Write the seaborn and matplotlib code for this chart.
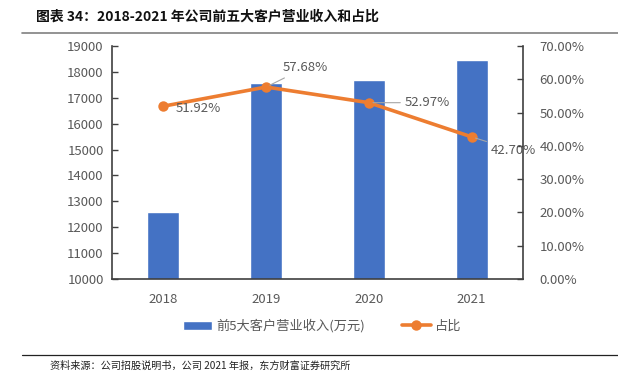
import numpy as np
import pandas as pd
import matplotlib
matplotlib.use("Agg")
import matplotlib.pyplot as plt
import seaborn as sns
from matplotlib.ticker import FixedLocator, FuncFormatter

years = ["2018", "2019", "2020", "2021"]
revenue = [12590, 17560, 17700, 18440]
share = [51.92, 57.68, 52.97, 42.70]
bar_name = "前5大客户营业收入(万元)"
line_name = "占比"
title = "图表 34：2018-2021 年公司前五大客户营业收入和占比"
source = "资料来源：公司招股说明书，公司 2021 年报，东方财富证券研究所"

sns.set_style("white")
plt.rcParams["font.family"] = ["Noto Sans CJK SC", "DejaVu Sans"]

BLUE = "#4472C4"
ORANGE = "#ED7D31"
GRAY = "#595959"

df = pd.DataFrame({"year": years, "revenue": revenue, "share": share})

fig = plt.figure(figsize=(6.18, 3.85), dpi=100)
ax = fig.add_axes([112 / 618, 1 - 279 / 385, 411 / 618, 233 / 385])

sns.barplot(data=df, x="year", y="revenue", color=BLUE, width=0.31,
            saturation=1, ax=ax, label=bar_name)
ax.set_ylim(10000, 19000)
ax.set_xlim(-0.5, 3.5)
ax.set_yticks(np.arange(10000, 19001, 1000))
ax.set_xlabel("")
ax.set_ylabel("")

ax2 = ax.twinx()
sns.lineplot(data=df, x="year", y="share", color=ORANGE, lw=2.6, marker="o",
             markersize=7.5, markeredgewidth=0, ax=ax2, label=line_name, legend=False)
ax2.set_ylim(0, 70)
ax2.set_yticks(np.arange(0, 71, 10))
ax2.yaxis.set_major_formatter(FuncFormatter(lambda v, p: f"{v:.2f}%"))
ax2.set_ylabel("")
ax2.set_xlim(-0.5, 3.5)

for a in (ax, ax2):
    for s in a.spines.values():
        s.set_visible(False)
    a.tick_params(axis="both", colors=GRAY, labelsize=9.5, direction="in", length=4, width=1)
    for lbl in a.get_yticklabels() + a.get_xticklabels():
        lbl.set_color(GRAY)

for a, side in ((ax, "left"), (ax, "bottom"), (ax2, "right")):
    a.spines[side].set_visible(True)
    a.spines[side].set_color("#404040")
    a.spines[side].set_linewidth(1.2)
ax.tick_params(axis="y", pad=6, colors="#404040", labelcolor=GRAY)
ax2.tick_params(axis="y", pad=12, colors="#404040", labelcolor=GRAY)

ax.tick_params(axis="x", length=0, pad=10)
ax.xaxis.set_minor_locator(FixedLocator(np.arange(-0.5, 3.6, 1)))
ax.tick_params(axis="x", which="minor", direction="in", length=4, color="#404040")
ax2.tick_params(axis="x", which="both", length=0)
ax.grid(False)
ax2.grid(False)

# data labels
offsets = [(9, -1.5), (12, 14), (26, 0), (14, -9.5)]
for i, (v, off) in enumerate(zip(share, offsets)):
    leader = None if i == 0 else dict(arrowstyle="-", color="#A6A6A6", lw=0.8,
                                       shrinkA=1, shrinkB=3)
    ax2.annotate(f"{v:.2f}%", xy=(i, v), xytext=off, textcoords="offset points",
                 ha="left", va="center", fontsize=9.5, color=GRAY,
                 arrowprops=leader)

# legend
h1, l1 = ax.get_legend_handles_labels()
h2, l2 = ax2.get_legend_handles_labels()
leg = fig.legend(h1 + h2, l1 + l2, loc="center", bbox_to_anchor=(322 / 618, 1 - 326 / 385),
                 ncol=2, frameon=False, fontsize=9.5, handlelength=2.2, columnspacing=2.8,
                 handletextpad=0.3)
for t in leg.get_texts():
    t.set_color(GRAY)
if ax.get_legend():
    ax.get_legend().remove()

fig.text(36 / 618, 1 - 16 / 385, title, fontsize=10, fontweight="bold",
         ha="left", va="center", color="#111111")
fig.add_artist(plt.Line2D([22 / 618, 618 / 618], [1 - 33 / 385, 1 - 33 / 385],
                          color="#808080", lw=1.2))
fig.add_artist(plt.Line2D([22 / 618, 618 / 618], [1 - 355 / 385, 1 - 355 / 385],
                          color="#222222", lw=0.9))
fig.text(50 / 618, 1 - 366 / 385, source, fontsize=7.3, ha="left", va="center",
         color="#222222")

fig.savefig("out.png", dpi=100)
